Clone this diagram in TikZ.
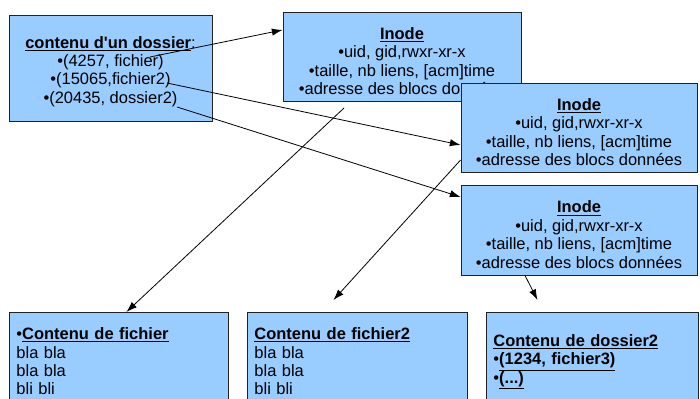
\documentclass[tikz,border=0pt]{standalone}
\usepackage{fontspec}
\setmainfont{Liberation Sans}
\usetikzlibrary{arrows.meta}
\definecolor{boxfill}{HTML}{99CCFF}
\definecolor{boxline}{HTML}{222222}
\begin{document}
\begin{tikzpicture}[x=0.75pt,y=-0.75pt,
  box/.style={draw=boxline, fill=boxfill, line width=0.7pt, inner sep=0pt},
  txt/.style={inner sep=0pt, font=\fontsize{12.35}{13.8}\selectfont, align=center},
  lowbox/.style={draw=boxline, fill=boxfill, line width=0.7pt, anchor=north west,
    font=\fontsize{12.35}{13.8}\selectfont, align=left, inner xsep=5.25pt},
  arr/.style={-{Latex[length=8pt,width=5.5pt]}, line width=0.6pt, black}]
\useasboundingbox (0,0) rectangle (700,399);
\clip (0,0) rectangle (700,399);
% top boxes
\node[box, minimum width=152.25pt, minimum height=79.5pt] (dir) at (110.5,68) {};
\node[txt] (tdir) at ([yshift=-2.6pt]dir.center)
  {\underline{\textbf{contenu d\textquotesingle un dossier}}:\\ •(4257, fichier)\\ •(15065,fichier2)\\ •(20435, dossier2)};
\node[box, minimum width=178.5pt, minimum height=66.75pt] (i1) at (402,56.5) {};
\node[txt] (ti1) at ([yshift=-3.4pt]i1.center)
  {\underline{\textbf{Inode}}\\ •uid, gid,rwxr-xr-x\\ •taille, nb liens, [acm]time\\ •adresse des blocs données};
\node[box, minimum width=177pt, minimum height=66.75pt] (i2) at (579,127.5) {};
\node[txt] (ti2) at ([yshift=-3.4pt]i2.center)
  {\underline{\textbf{Inode}}\\ •uid, gid,rwxr-xr-x\\ •taille, nb liens, [acm]time\\ •adresse des blocs données};
\node[box, minimum width=177pt, minimum height=67.5pt] (i3) at (579,230) {};
\node[txt] (ti3) at ([yshift=-3.4pt]i3.center)
  {\underline{\textbf{Inode}}\\ •uid, gid,rwxr-xr-x\\ •taille, nb liens, [acm]time\\ •adresse des blocs données};
% bottom boxes
\node[lowbox, text width=153.75pt, inner ysep=11.5pt] (A) at (9,312)
  {•\underline{\textbf{Contenu de fichier}}\\ bla bla\\ bla bla\\ bli bli};
\node[lowbox, text width=154.5pt, inner ysep=11.5pt] (B) at (247,312)
  {\underline{\textbf{Contenu de fichier2}}\\ bla bla\\ bla bla\\ bli bli};
\node[lowbox, text width=148.5pt, inner ysep=16.5pt] (C) at (486,312)
  {\underline{\textbf{Contenu de dossier2}}\\ •\underline{\textbf{(1234, fichier3)}}\\ •\underline{\textbf{(...)}}};
% connector start points
\coordinate (s1) at (150,57);
\coordinate (s2) at (167,83);
\coordinate (s3) at (177,107);
\coordinate (s4) at (344,108);
% connectors
\draw[arr] (s1) -- ([yshift=19.9pt]i1.west);
\draw[arr] (s2) -- ([yshift=-13.1pt]i2.west);
\draw[arr] (s3) -- ([yshift=24.75pt]i3.west);
\draw[arr] (s4) -- ([xshift=5.6pt]A.north);
\draw[arr] ([yshift=-24.4pt]i2.west) -- ([shift={(-18pt,9pt)}]B.north);
\draw[arr] ([xshift=-40.5pt]i3.south) -- ([shift={(-41.25pt,9pt)}]C.north);
\end{tikzpicture}
\end{document}
